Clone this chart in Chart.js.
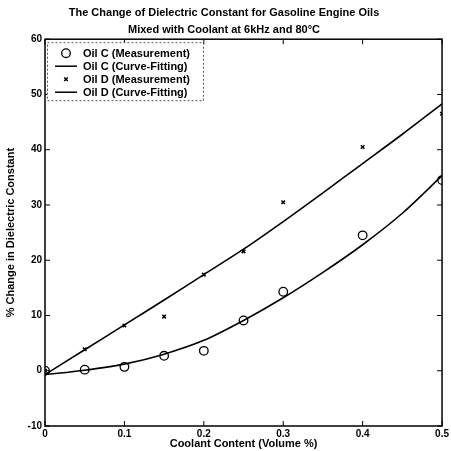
<!DOCTYPE html>
<html>
<head>
<meta charset="utf-8">
<script src="https://cdn.jsdelivr.net/npm/chart.js@4/dist/chart.umd.min.js"></script>
<style>
  html, body { margin: 0; padding: 0; background: #fff; }
  #wrap { width: 451px; height: 451px; }
</style>
</head>
<body>
<div id="wrap"><canvas id="chart"></canvas></div>
<script>
// Data
const coolantMeas = [0, 0.05, 0.1, 0.15, 0.2, 0.25, 0.3, 0.4, 0.5];
const oilCMeas = [0, 0.2, 0.7, 2.7, 3.6, 9.1, 14.3, 24.5, 34.5];
const oilDMeas = [0, 3.9, 8.2, 9.8, 17.4, 21.6, 30.5, 40.5, 46.5];

const coolantFit = [0, 0.05, 0.1, 0.15, 0.2, 0.25, 0.3, 0.35, 0.4, 0.45, 0.5];
const oilCFit = [-0.7, 0.1, 1.2, 3.0, 5.5, 9.1, 13.2, 17.8, 22.8, 28.5, 35.3];
const oilDFit = [-0.7, 3.8, 8.3, 12.8, 17.4, 22.0, 27.0, 32.2, 37.5, 42.8, 48.3];

const xTicks = [0, 0.1, 0.2, 0.3, 0.4, 0.5];
const yTicks = [-10, 0, 10, 20, 30, 40, 50, 60];

const FONT = 'Liberation Sans, Arial, sans-serif';

function pts(xs, ys) {
    return xs.map((x, i) => ({ x: x, y: ys[i] }));
}

// Frame with MATLAB-style inward ticks
const framePlugin = {
    id: 'frame',
    afterDatasetsDraw(chart) {
        const { ctx, chartArea: a, scales } = chart;
        ctx.save();
        ctx.strokeStyle = '#000';
        ctx.lineWidth = 1.5;
        ctx.strokeRect(a.left, a.top, a.right - a.left, a.bottom - a.top);
        ctx.lineWidth = 1;
        ctx.beginPath();
        xTicks.forEach(v => {
            const px = scales.x.getPixelForValue(v);
            ctx.moveTo(px, a.bottom); ctx.lineTo(px, a.bottom - 5);
            ctx.moveTo(px, a.top); ctx.lineTo(px, a.top + 5);
        });
        yTicks.forEach(v => {
            const py = scales.y.getPixelForValue(v);
            ctx.moveTo(a.left, py); ctx.lineTo(a.left + 5, py);
            ctx.moveTo(a.right, py); ctx.lineTo(a.right - 5, py);
        });
        ctx.stroke();
        ctx.restore();
    }
};

// Boxed legend in the top-left corner of the plot
const legendBox = {
    id: 'legendBox',
    afterDraw(chart) {
        const { ctx, chartArea: a } = chart;
        const left = a.left + 2, top = a.top + 3, w = 156, h = 58;
        ctx.save();
        ctx.fillStyle = '#fff';
        ctx.fillRect(left, top, w, h);
        ctx.strokeStyle = '#555';
        ctx.lineWidth = 1;
        ctx.setLineDash([2, 2]);
        ctx.strokeRect(left + 0.5, top + 0.5, w, h);
        ctx.setLineDash([]);
        ctx.font = 'bold 11px ' + FONT;
        ctx.textBaseline = 'middle';
        chart.data.datasets.forEach((ds, i) => {
            const y = top + 11 + i * 13;
            const mx = left + 19;
            ctx.strokeStyle = '#000';
            if (ds.showLine) {
                ctx.lineWidth = 1.5;
                ctx.beginPath();
                ctx.moveTo(left + 8, y); ctx.lineTo(left + 30, y);
                ctx.stroke();
            } else {
                ctx.fillStyle = ds.backgroundColor;
                ctx.lineWidth = ds.borderWidth;
                Chart.helpers.drawPoint(ctx, {
                    pointStyle: ds.pointStyle, radius: ds.pointRadius,
                    borderWidth: ds.borderWidth
                }, mx, y);
            }
            ctx.fillStyle = '#000';
            ctx.fillText(ds.label, left + 36, y + 1);
        });
        ctx.restore();
    }
};

new Chart(document.getElementById('chart'), {
    type: 'scatter',
    data: {
        datasets: [
            {
                label: 'Oil C (Measurement)',
                data: pts(coolantMeas, oilCMeas),
                showLine: false,
                pointStyle: 'circle',
                pointRadius: 4.3,
                borderWidth: 1.3,
                borderColor: '#000',
                backgroundColor: 'rgba(0,0,0,0)'
            },
            {
                label: 'Oil C (Curve-Fitting)',
                data: pts(coolantFit, oilCFit),
                showLine: true,
                pointRadius: 0,
                borderWidth: 1.6,
                borderColor: '#000',
                tension: 0.3
            },
            {
                label: 'Oil D (Measurement)',
                data: pts(coolantMeas, oilDMeas),
                showLine: false,
                pointStyle: 'crossRot',
                pointRadius: 2.5,
                borderWidth: 1.5,
                borderColor: '#000',
                backgroundColor: '#000'
            },
            {
                label: 'Oil D (Curve-Fitting)',
                data: pts(coolantFit, oilDFit),
                showLine: true,
                pointRadius: 0,
                borderWidth: 1.6,
                borderColor: '#000',
                tension: 0.3
            }
        ]
    },
    options: {
        responsive: true,
        maintainAspectRatio: false,
        animation: false,
        layout: { padding: { top: 2, right: 7, left: 4, bottom: 0 } },
        plugins: {
            legend: { display: false },
            tooltip: { enabled: false },
            title: {
                display: true,
                text: ['The Change of Dielectric Constant for Gasoline Engine Oils',
                       'Mixed with Coolant at 6kHz and 80\u00B0C'],
                color: '#000',
                font: { family: FONT, size: 11, weight: 'bold', lineHeight: 1.6 },
                padding: { top: 2, bottom: 0 }
            }
        },
        scales: {
            x: {
                type: 'linear',
                min: 0, max: 0.5,
                afterBuildTicks: s => { s.ticks = xTicks.map(v => ({ value: v })); },
                afterFit: s => { s.height = 25; },
                grid: { display: false, drawTicks: false },
                border: { display: false },
                ticks: {
                    color: '#000', padding: 2,
                    font: { family: FONT, size: 10, weight: 'bold' },
                    callback: v => String(v)
                },
                title: {
                    display: true, text: 'Coolant Content (Volume %)', color: '#000',
                    font: { family: FONT, size: 11, weight: 'bold' },
                    padding: { top: 0, bottom: 0 }
                }
            },
            y: {
                type: 'linear',
                min: -10, max: 60,
                afterBuildTicks: s => { s.ticks = yTicks.map(v => ({ value: v })); },
                afterFit: s => { s.width = 41; },
                grid: { display: false, drawTicks: false },
                border: { display: false },
                ticks: {
                    color: '#000', padding: 3,
                    font: { family: FONT, size: 10, weight: 'bold' }
                },
                title: {
                    display: true, text: '% Change in Dielectric Constant', color: '#000',
                    font: { family: FONT, size: 11, weight: 'bold' },
                    padding: { top: 0, bottom: 4 }
                }
            }
        }
    },
    plugins: [framePlugin, legendBox]
});
</script>
</body>
</html>
